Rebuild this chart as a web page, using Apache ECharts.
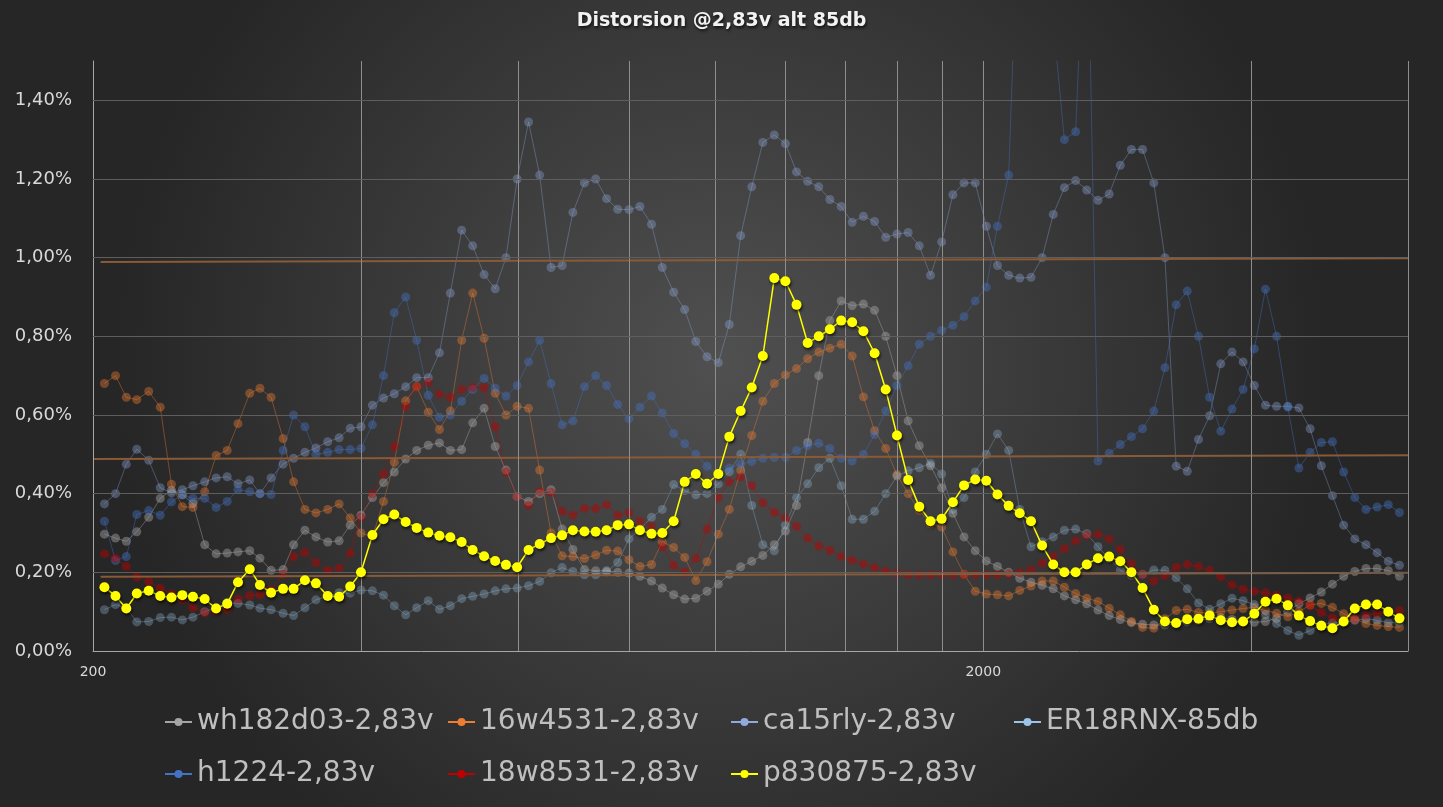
<!DOCTYPE html>
<html><head><meta charset="utf-8">
<script src="https://cdn.jsdelivr.net/npm/echarts@6/dist/echarts.min.js"></script>
<style>html,body{margin:0;padding:0;background:#333;}#c{width:1443px;height:807px;}</style>
</head><body><div id="c"></div>
<script>
// Frequencies (Hz), 1/24 octave steps
const freqs = [206,212,218,224,231,238,245,252,259,267,275,283,291,300,308,317,327,336,346,356,367,378,389,
400,412,424,436,449,462,476,490,504,519,534,550,566,582,599,617,635,654,673,692,713,734,755,777,
800,823,848,872,898,924,951,979,1008,1037,1068,1099,1131,1165,1199,1234,1270,1307,1345,1385,1425,1467,1510,1554,
1600,1647,1695,1745,1796,1849,1903,1959,2016,2075,2136,2198,2263,2329,2397,2467,2540,2614,2691,2770,2851,2934,3020,3109,
3200,3294,3390,3490,3592,3697,3806,3917,4032,4150,4271,4397,4525,4658,4795,4935,5080,5229,5382,5540,5702,5869];

// Distortion values (%)
const wh182d03 = [0.297,0.287,0.279,0.303,0.34,0.388,0.409,0.397,0.375,0.27,
0.247,0.249,0.252,0.255,0.236,0.205,0.207,0.27,0.307,0.29,
0.277,0.28,0.32,0.345,0.39,0.428,0.455,0.488,0.51,0.523,
0.529,0.51,0.512,0.58,0.617,0.52,0.46,0.393,0.38,0.4,
0.41,0.31,0.258,0.207,0.204,0.204,0.2,0.198,0.19,0.178,
0.16,0.143,0.132,0.134,0.152,0.17,0.195,0.214,0.228,0.243,
0.27,0.305,0.37,0.53,0.7,0.84,0.89,0.878,0.882,0.866,
0.8,0.7,0.585,0.522,0.471,0.415,0.35,0.29,0.255,0.229,
0.215,0.2,0.185,0.175,0.167,0.158,0.14,0.13,0.12,0.104,
0.09,0.08,0.072,0.068,0.066,0.066,0.07,0.074,0.078,0.082,
0.085,0.08,0.076,0.073,0.075,0.083,0.1,0.12,0.135,0.15,
0.17,0.19,0.202,0.21,0.21,0.204,0.19];

const w16w4531 = [0.68,0.7,0.645,0.639,0.66,0.62,0.424,0.367,0.365,0.405,
0.497,0.51,0.578,0.655,0.668,0.645,0.54,0.43,0.36,0.351,
0.36,0.374,0.338,0.3,0.29,0.38,0.48,0.636,0.672,0.607,
0.563,0.61,0.79,0.91,0.795,0.655,0.6,0.622,0.617,0.46,
0.3,0.242,0.24,0.235,0.244,0.256,0.254,0.232,0.215,0.22,
0.278,0.263,0.238,0.179,0.227,0.297,0.36,0.46,0.548,0.635,
0.68,0.702,0.718,0.743,0.76,0.77,0.78,0.75,0.646,0.56,
0.515,0.448,0.4,0.357,0.323,0.315,0.252,0.195,0.152,0.145,
0.143,0.14,0.154,0.165,0.178,0.178,0.162,0.146,0.134,0.126,
0.109,0.092,0.075,0.06,0.058,0.082,0.103,0.106,0.098,0.096,
0.1,0.104,0.108,0.111,0.103,0.096,0.087,0.1,0.117,0.121,
0.111,0.095,0.081,0.07,0.065,0.062,0.06];

const ca15rly = [0.374,0.4,0.475,0.513,0.485,0.415,0.402,0.41,0.42,0.43,
0.44,0.443,0.425,0.435,0.4,0.44,0.475,0.49,0.505,0.516,
0.532,0.542,0.566,0.57,0.625,0.643,0.654,0.672,0.695,0.695,
0.758,0.91,1.07,1.03,0.957,0.921,1.0,1.2,1.345,1.21,
0.975,0.98,1.115,1.19,1.2,1.15,1.123,1.122,1.13,1.085,
0.975,0.912,0.868,0.787,0.748,0.733,0.83,1.056,1.18,1.293,
1.312,1.29,1.218,1.194,1.18,1.148,1.13,1.09,1.105,1.092,
1.052,1.06,1.064,1.03,0.955,1.04,1.16,1.19,1.19,1.08,
0.98,0.955,0.948,0.95,1.0,1.11,1.178,1.196,1.172,1.146,
1.162,1.235,1.275,1.275,1.19,1.0,0.47,0.457,0.538,0.598,
0.73,0.76,0.735,0.675,0.625,0.622,0.622,0.618,0.565,0.471,
0.395,0.32,0.285,0.27,0.25,0.228,0.218];

const er18rnx = [0.105,0.118,0.11,0.074,0.075,0.085,0.086,0.079,0.086,0.1,
0.11,0.124,0.121,0.117,0.109,0.105,0.096,0.09,0.11,0.13,
0.139,0.148,0.147,0.155,0.153,0.142,0.115,0.092,0.11,0.128,
0.106,0.115,0.133,0.139,0.145,0.153,0.158,0.16,0.166,0.177,
0.199,0.212,0.202,0.194,0.194,0.201,0.225,0.285,0.31,0.34,
0.36,0.423,0.408,0.397,0.4,0.425,0.456,0.5,0.37,0.27,
0.255,0.32,0.39,0.425,0.466,0.49,0.42,0.335,0.335,0.355,
0.4,0.445,0.458,0.466,0.477,0.45,0.36,0.39,0.455,0.5,
0.552,0.51,0.36,0.265,0.278,0.29,0.307,0.31,0.298,0.265,
0.235,0.205,0.192,0.195,0.206,0.205,0.186,0.158,0.122,0.106,
0.12,0.134,0.128,0.118,0.092,0.07,0.052,0.04,0.052,0.067,
0.071,0.072,0.078,0.082,0.078,0.072,0.072];

const h1224 = [0.33,0.23,0.24,0.347,0.357,0.345,0.379,0.397,0.388,0.388,
0.365,0.38,0.41,0.405,0.4,0.398,0.51,0.6,0.57,0.5,
0.505,0.512,0.512,0.515,0.575,0.7,0.86,0.9,0.79,0.65,
0.594,0.6,0.635,0.665,0.693,0.668,0.648,0.675,0.735,0.79,
0.68,0.575,0.585,0.672,0.7,0.675,0.627,0.59,0.62,0.648,
0.605,0.553,0.527,0.5,0.47,0.45,0.465,0.475,0.482,0.49,
0.492,0.492,0.51,0.522,0.528,0.515,0.49,0.483,0.5,0.55,
0.61,0.675,0.725,0.78,0.8,0.815,0.828,0.85,0.89,0.925,
1.08,1.21,2,2,2,1.6,1.3,1.32,2,0.483,
0.503,0.525,0.545,0.565,0.61,0.72,0.88,0.915,0.8,0.645,
0.559,0.615,0.665,0.768,0.92,0.8,0.62,0.465,0.505,0.53,
0.532,0.455,0.39,0.36,0.366,0.372,0.352];

const w18w8531 = [0.247,0.236,0.215,0.188,0.176,0.16,0.145,0.13,0.11,0.097,
0.101,0.106,0.132,0.141,0.143,0.155,0.195,0.24,0.251,0.225,
0.205,0.21,0.249,0.34,0.4,0.45,0.52,0.622,0.672,0.683,
0.653,0.645,0.665,0.67,0.67,0.57,0.455,0.393,0.37,0.405,
0.403,0.355,0.345,0.363,0.362,0.372,0.345,0.352,0.33,0.317,
0.265,0.218,0.2,0.235,0.31,0.39,0.43,0.442,0.42,0.377,
0.352,0.338,0.317,0.287,0.267,0.256,0.24,0.231,0.221,0.212,
0.203,0.198,0.194,0.194,0.194,0.194,0.194,0.194,0.194,0.194,
0.194,0.196,0.199,0.206,0.223,0.24,0.26,0.28,0.294,0.297,
0.285,0.258,0.222,0.195,0.178,0.192,0.213,0.22,0.215,0.205,
0.189,0.168,0.157,0.152,0.148,0.142,0.135,0.127,0.115,0.098,
0.084,0.077,0.082,0.09,0.095,0.099,0.103];

const p830875 = [0.162,0.14,0.108,0.146,0.153,0.14,0.136,0.142,0.138,0.132,
0.108,0.12,0.175,0.208,0.168,0.148,0.158,0.158,0.18,0.172,
0.14,0.138,0.164,0.2,0.295,0.335,0.347,0.328,0.313,0.301,
0.293,0.289,0.277,0.257,0.241,0.229,0.219,0.213,0.257,0.272,
0.287,0.294,0.307,0.304,0.303,0.307,0.32,0.322,0.307,0.298,
0.3,0.33,0.43,0.45,0.425,0.45,0.545,0.61,0.67,0.75,
0.948,0.94,0.88,0.783,0.8,0.818,0.84,0.836,0.813,0.757,
0.665,0.548,0.435,0.367,0.33,0.336,0.378,0.421,0.436,0.433,
0.398,0.369,0.35,0.33,0.268,0.22,0.2,0.2,0.22,0.236,
0.24,0.228,0.2,0.16,0.105,0.075,0.071,0.081,0.082,0.09,
0.078,0.073,0.075,0.095,0.125,0.133,0.116,0.09,0.076,0.064,
0.058,0.075,0.108,0.118,0.118,0.1,0.083];

const seriesNames = ['wh182d03-2,83v','16w4531-2,83v','ca15rly-2,83v','ER18RNX-85db','h1224-2,83v','18w8531-2,83v','p830875-2,83v'];
const seriesValues = [wh182d03, w16w4531, ca15rly, er18rnx, h1224, w18w8531, p830875];

// Axis ticks / gridlines
const xGridValues = [200,400,600,800,1000,1200,1400,1600,1800,2000,4000,6000];
const xTickLabels = [200, 2000];
const yGridValues = [0.2,0.4,0.6,0.8,1.0,1.2,1.4];

// Hand-drawn brown reference lines (freq, %)
const refLineHigh = [[204, 0.989],[6540, 0.999]];
const refLineMid  = [[200, 0.488],[6450, 0.498]];
const refLineLow  = [[204, 0.189],[6540, 0.199]];

const colors = ['#a5a5a5','#ed7d31','#8faadc','#9dc3e6','#4472c4','#c00000','#ffff00'];
const opac   = [0.45, 0.4, 0.36, 0.3, 0.42, 0.42, 1];

const chart = echarts.init(document.getElementById('c'));

const series = [];
const mlData = [];
xGridValues.forEach(v => {
  const hasLabel = xTickLabels.indexOf(v) >= 0;
  mlData.push({xAxis: v,
    lineStyle:{color: v === 200 ? '#a6a6a6' : '#8e8e8e', width:1, type:'solid'},
    label: hasLabel ? {show:true, position:'start', distance:14, formatter:String(v), color:'#d9d9d9', fontFamily:'DejaVu Sans', fontSize:14}
                    : {show:false}});
});
yGridValues.forEach(v => mlData.push({yAxis: v, lineStyle:{color:'#5e5e5e', width:1, type:'solid'}, label:{show:false}}));
series.push({type:'line', name:'__grid', data:[], silent:true, z:1,
  markLine:{symbol:['none','none'], silent:true, animation:false, data: mlData}});

seriesNames.forEach((n, i) => {
  const isMain = i === 6;
  if (isMain) {
    [refLineHigh, refLineMid, refLineLow].forEach(rl => series.push({
      type:'line', name:'__ref', data: rl, symbol:'none', clip:false, silent:true, z:3,
      lineStyle:{color:'#8a5a36', width:2}
    }));
  }
  series.push({
    type:'line', name:n,
    data: freqs.map((f, k) => [f, seriesValues[i][k]]),
    symbol:'circle', symbolSize: isMain ? 10 : 9,
    showSymbol:true, z: isMain ? 5 : 2,
    itemStyle: isMain ? {color:colors[i], opacity:1, shadowColor:'rgba(0,0,0,0.7)', shadowBlur:3, shadowOffsetX:1, shadowOffsetY:2}
                      : {color:colors[i], opacity:opac[i]},
    lineStyle: {color:colors[i], width: isMain ? 1.5 : 1, opacity: opac[i]},
    emphasis:{disabled:true}
  });
});

chart.setOption({
  animation:false,
  backgroundColor:{type:'radial', x:0.5, y:0.45, r:0.75, colorStops:[{offset:0,color:'#505050'},{offset:1,color:'#262626'}]},
  title:{text:'Distorsion @2,83v alt 85db', left:'center', top:12, padding:0,
    textStyle:{color:'#f2f2f2', fontFamily:'DejaVu Sans', fontWeight:'bold', fontSize:19,
      textShadowColor:'rgba(0,0,0,0.7)', textShadowBlur:3, textShadowOffsetX:1, textShadowOffsetY:2}},
  legend:{data: seriesNames, left:164, top:701, width:1135, padding:0, itemGap:10, itemWidth:27, itemHeight:10,
    itemStyle:{opacity:1}, lineStyle:{opacity:1},
    textStyle:{color:'#bfbfbf', fontFamily:'DejaVu Sans', fontSize:28, width:240, lineHeight:42}},
  grid:{left:93, right:35, top:61, bottom:156},
  xAxis:{type:'log', logBase:10, min:200, max:6000,
    axisLine:{show:true, lineStyle:{color:'#a6a6a6'}}, axisTick:{show:false}, axisLabel:{show:false},
    splitLine:{show:false}, minorSplitLine:{show:false}},
  yAxis:{type:'value', min:0, max:1.5, interval:0.2,
    axisLine:{show:true, lineStyle:{color:'#a6a6a6'}}, axisTick:{show:false},
    axisLabel:{color:'#d9d9d9', fontFamily:'DejaVu Sans', fontSize:18, margin:21,
      formatter: v => Math.abs(v - 1.5) < 1e-6 ? '' : v.toFixed(2).replace('.', ',') + '%'},
    splitLine:{show:false}},
  series: series
});
</script></body></html>
